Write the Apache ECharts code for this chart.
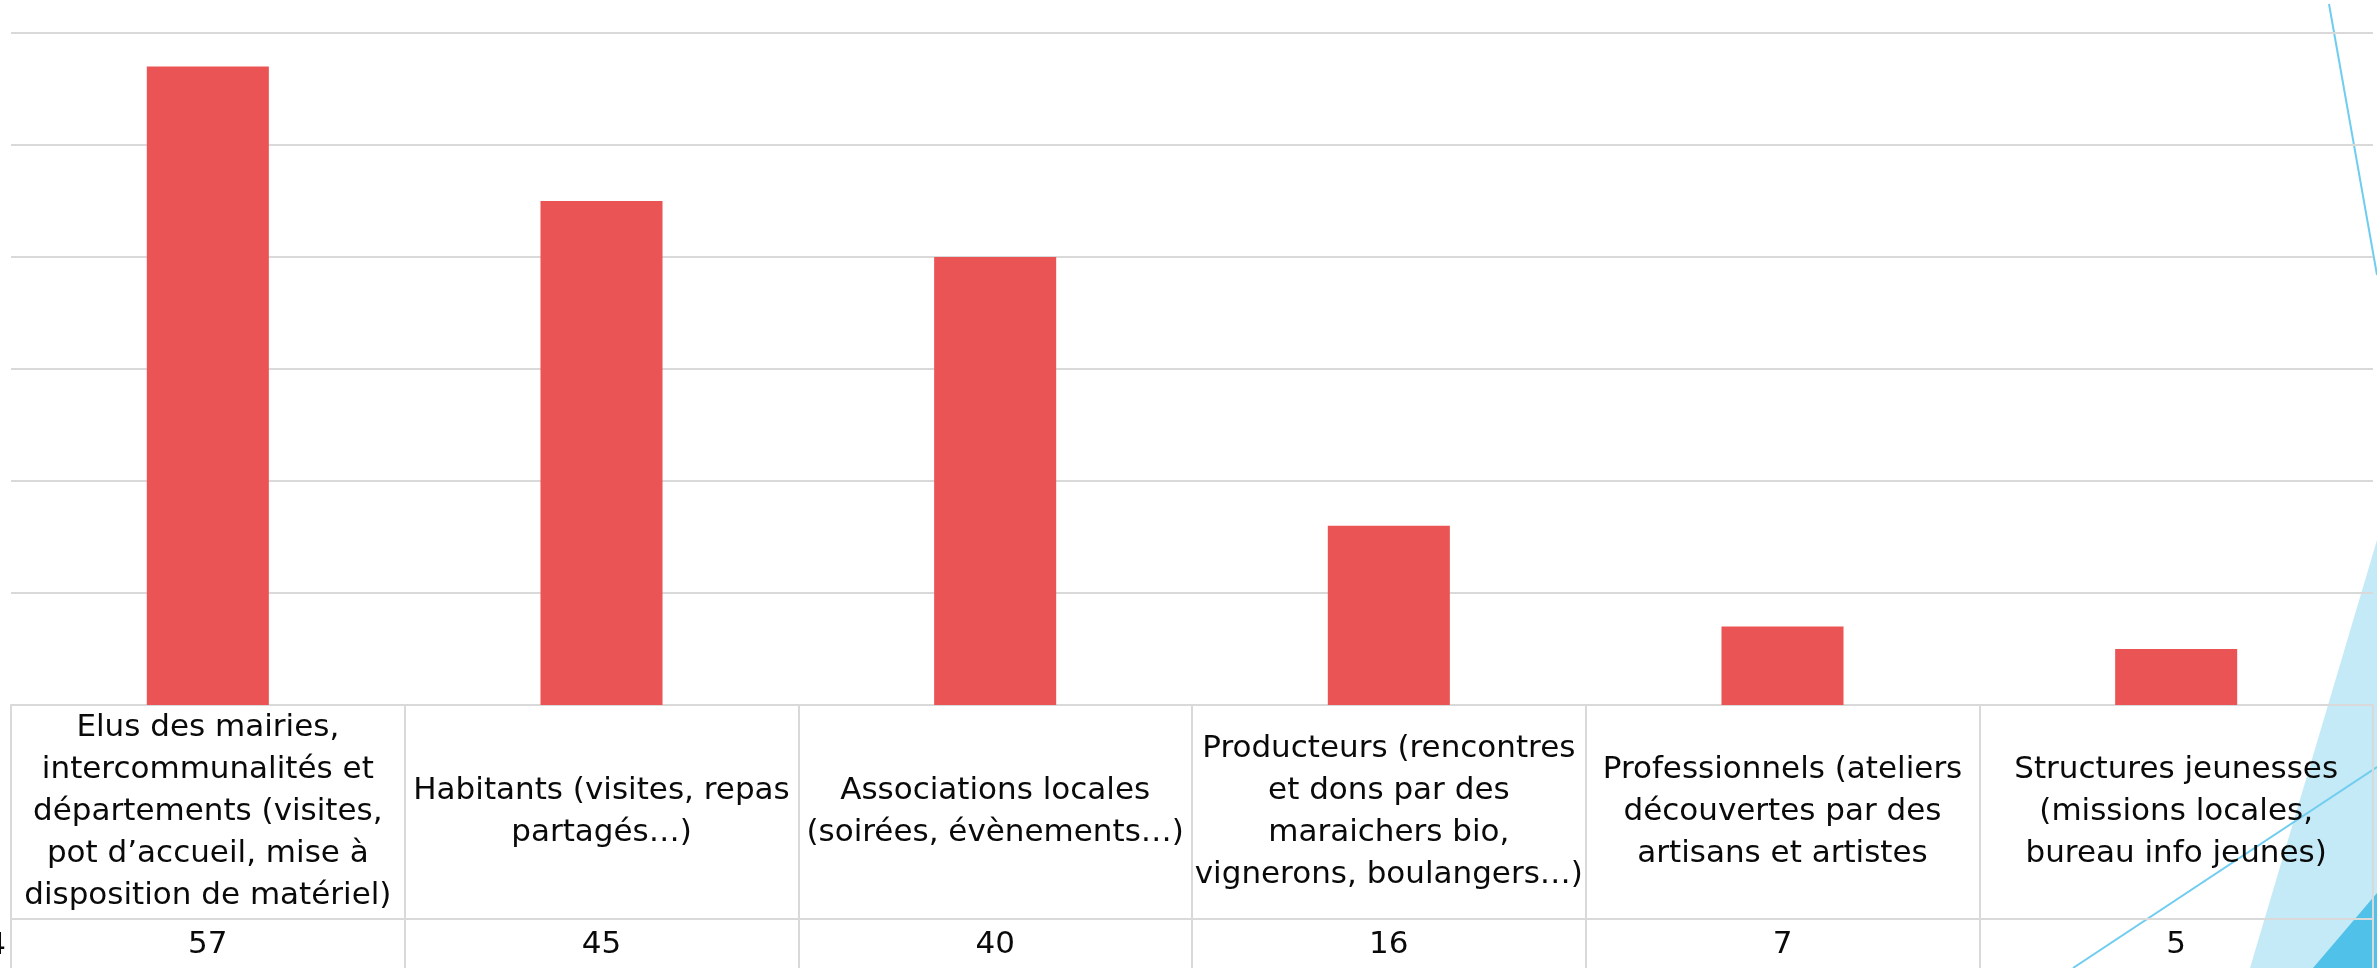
<!DOCTYPE html>
<html>
<head>
<meta charset="utf-8">
<script src="https://cdn.jsdelivr.net/npm/echarts@6/dist/echarts.min.js"></script>
<style>html,body{margin:0;padding:0;background:#fff;}#chart{width:2377px;height:968px;}</style>
</head>
<body>
<div id="chart"></div>
<script>
const categories = [
  "Elus des mairies,\nintercommunalités et\ndépartements (visites,\npot d’accueil, mise à\ndisposition de matériel)",
  "Habitants (visites, repas\npartagés…)",
  "Associations locales\n(soirées, évènements…)",
  "Producteurs (rencontres\net dons par des\nmaraichers bio,\nvignerons, boulangers…)",
  "Professionnels (ateliers\ndécouvertes par des\nartisans et artistes",
  "Structures jeunesses\n(missions locales,\nbureau info jeunes)"
];
const values = [57, 45, 40, 16, 7, 5];
const yMin = 0, yMax = 60, yInterval = 10;

const FONT = '"DejaVu Sans"';
const FS = 31;
const chart = echarts.init(document.getElementById('chart'), null, {renderer: 'canvas'});
const W = 2377, H = 968;
chart.setOption({
  animation: false,
  backgroundColor: '#ffffff',
  grid: {left: 11, right: 4, top: 33, bottom: 263, containLabel: false},
  xAxis: [
    {
      type: 'category', data: categories, position: 'bottom',
      axisLine: {show: true, lineStyle: {color: '#d9d9d9', width: 2}},
      axisTick: {show: true, length: 270, lineStyle: {color: '#d9d9d9', width: 2}},
      axisLabel: {interval: 0, margin: 107, color: '#0a0a0a', fontFamily: FONT, fontSize: FS,
        lineHeight: 42, align: 'center', verticalAlign: 'middle'}
    },
    {
      type: 'category', data: values.map(String), position: 'bottom', offset: 214,
      axisLine: {show: true, lineStyle: {color: '#d9d9d9', width: 2}},
      axisTick: {show: false},
      axisLabel: {interval: 0, margin: 26, color: '#0a0a0a', fontFamily: FONT, fontSize: FS,
        verticalAlign: 'middle'}
    }
  ],
  yAxis: {
    type: 'value', min: yMin, max: yMax, interval: yInterval,
    axisLine: {show: false}, axisTick: {show: false}, axisLabel: {show: false},
    splitLine: {show: true, lineStyle: {color: '#d9d9d9', width: 2}}
  },
  series: [{
    type: 'bar', data: values, barWidth: '31%', xAxisIndex: 0,
    itemStyle: {color: '#EB5454'}, z: 3
  }],
  graphic: [
    {type: 'polygon', z: -10, silent: true, shape: {points: [[2250, H], [W, 540], [W, H]]}, style: {fill: '#C5EAF7'}},
    {type: 'polygon', z: -9, silent: true, shape: {points: [[2313, H], [W, 893], [W, H]]}, style: {fill: '#50C1E8'}},
    {type: 'line', z: -8, silent: true, shape: {x1: 2073, y1: H, x2: W, y2: 767}, style: {stroke: '#70CDEF', lineWidth: 2}},
    {type: 'line', z: -8, silent: true, shape: {x1: 2329, y1: 4, x2: W, y2: 275}, style: {stroke: '#70CDEF', lineWidth: 2}},
    {type: 'text', silent: true, x: 6, y: 946, style: {text: '4', font: FS + 'px "DejaVu Sans"', fill: '#0a0a0a', align: 'right', verticalAlign: 'middle'}}
  ]
});
</script>
</body>
</html>
